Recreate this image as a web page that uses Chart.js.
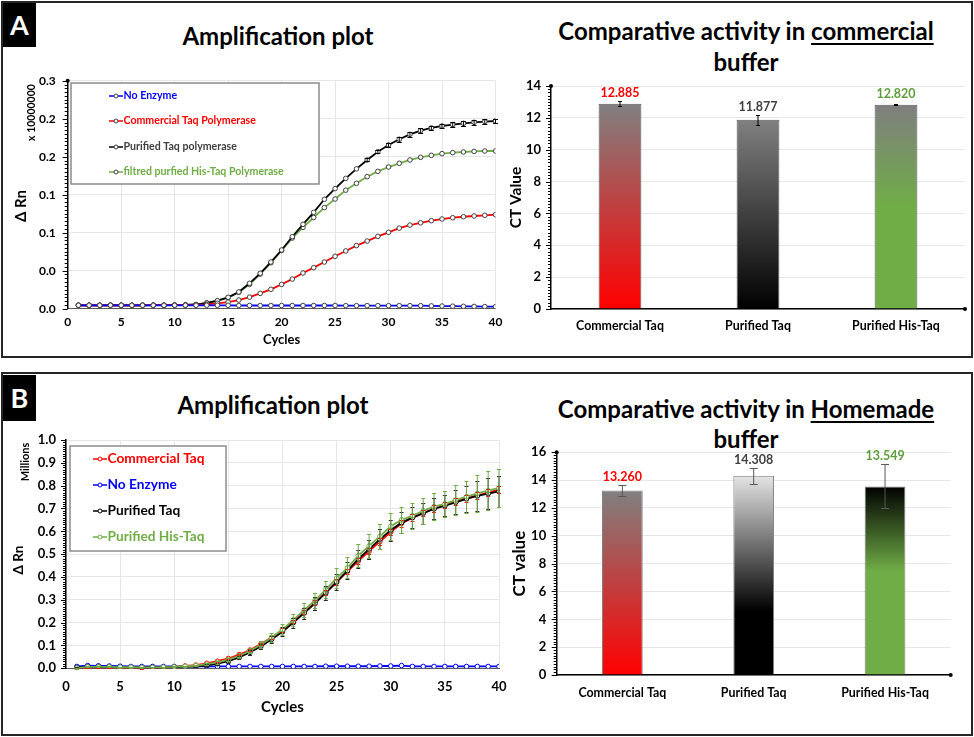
<!DOCTYPE html>
<html>
<head>
<meta charset="utf-8">
<script src="https://cdn.jsdelivr.net/npm/chart.js@4.4.1/dist/chart.umd.min.js"></script>
<style>
  body { margin: 0; width: 974px; height: 737px; background: #fff; position: relative; overflow: hidden; font-family: Lato, "Noto Sans", sans-serif; }
  .panel { position: absolute; left: 1px; width: 968px; border: 2px solid #262626; }
  .tag { position: absolute; left: 3px; width: 33px; background: #000; color: #fff; font-weight: bold; font-size: 27px; text-align: center; }
  .title { position: absolute; width: 460px; text-align: center; font-weight: bold; color: #000; white-space: nowrap; }
  .title u { text-decoration-thickness: 2px; text-underline-offset: 3px; }
  canvas { position: absolute; }
</style>
</head>
<body>
<div class="panel" style="top:1px;height:353px"></div>
<div class="panel" style="top:372px;height:360px"></div>
<div class="tag" style="top:3px;height:44px;line-height:44px">A</div>
<div class="tag" style="top:375px;height:46px;line-height:46px">B</div>

<div class="title" style="left:48px;top:21.5px;font-size:24px;line-height:27px">Amplification plot</div>
<div class="title" style="left:516px;top:15px;font-size:24px;line-height:31px">Comparative activity in <u>commercial</u><br>buffer</div>
<div class="title" style="left:43px;top:390.5px;font-size:24px;line-height:27px">Amplification plot</div>
<div class="title" style="left:516px;top:394px;font-size:24px;line-height:30px">Comparative activity in <u>Homemade</u><br>buffer</div>

<canvas id="ampA" width="505" height="293" style="left:0;top:62px"></canvas>
<canvas id="barA" width="474" height="282" style="left:500px;top:75px"></canvas>
<canvas id="ampB" width="515" height="300" style="left:0;top:425px"></canvas>
<canvas id="barB" width="474" height="280" style="left:500px;top:440px"></canvas>

<script>
const cycles = [1,2,3,4,5,6,7,8,9,10,11,12,13,14,15,16,17,18,19,20,
  21,22,23,24,25,26,27,28,29,30,31,32,33,34,35,36,37,38,39,40];

// panel A amplification, delta Rn in units of 10^7
const aNoEnzyme = [0.0045,0.0045,0.0045,0.0045,0.0045,0.0045,0.0045,0.0045,0.0045,0.0045,
  0.0045,0.0045,0.0045,0.0045,0.0045,0.0042,0.0042,0.0042,0.0042,0.0042,
  0.0042,0.0042,0.0042,0.0042,0.0042,0.0040,0.0040,0.0040,0.0040,0.0040,
  0.0040,0.0040,0.0040,0.0037,0.0035,0.0033,0.0031,0.0030,0.0028,0.0026];
const aCommercial = [0.0045,0.0045,0.0045,0.0045,0.0045,0.0045,0.0045,0.0046,0.0046,0.0047,
  0.0048,0.0050,0.0058,0.0071,0.0086,0.0114,0.0152,0.0202,0.0255,0.0320,
  0.0390,0.0470,0.0540,0.0614,0.0690,0.0760,0.0830,0.0890,0.0952,0.1005,
  0.1060,0.1100,0.1130,0.1158,0.1180,0.1197,0.1210,0.1220,0.1229,0.1237];
const aPurified = [0.0045,0.0045,0.0045,0.0045,0.0045,0.0045,0.0045,0.0046,0.0046,0.0047,
  0.0050,0.0055,0.0075,0.0105,0.0150,0.0220,0.0334,0.0466,0.0614,0.0772,
  0.0947,0.1110,0.1268,0.1440,0.1580,0.1715,0.1840,0.1957,0.2066,0.2154,
  0.2229,0.2294,0.2342,0.2378,0.2404,0.2421,0.2439,0.2452,0.2461,0.2470];
const aPurifiedErr = [0,0,0,0,0,0,0,0,0,0,0,0,0,0,0,0,0,0,0,0,
  0,0,0,0,0,0,0,0.002,0.002,0.002,
  0.003,0.003,0.003,0.003,0.003,0.003,0.003,0.003,0.003,0.003];
const aHisTaq = [0.0045,0.0045,0.0045,0.0045,0.0045,0.0045,0.0045,0.0046,0.0046,0.0047,
  0.0050,0.0055,0.0075,0.0102,0.0145,0.0215,0.0320,0.0455,0.0605,0.0765,
  0.0930,0.1070,0.1200,0.1330,0.1443,0.1560,0.1650,0.1737,0.1807,0.1864,
  0.1913,0.1957,0.1992,0.2018,0.2040,0.2053,0.2062,0.2070,0.2075,0.2075];
const aYTickLabels = ['0.0','0.0','0.1','0.1','0.2','0.2','0.3'];

// panel B amplification, delta Rn in millions
const bCommercial = [-0.004,0.003,0.003,0.003,0.002,0.001,0.000,0.001,0.003,0.005,
  0.010,0.014,0.022,0.031,0.043,0.060,0.080,0.106,0.135,0.168,
  0.205,0.245,0.287,0.333,0.378,0.425,0.470,0.513,0.555,0.597,
  0.635,0.660,0.680,0.700,0.715,0.730,0.745,0.758,0.770,0.783];
const bCommercialErr = [0.001,0.001,0.001,0.001,0.001,0.001,0.001,0.001,0.001,0.001,
  0.001,0.001,0.002,0.002,0.003,0.003,0.004,0.005,0.006,0.007,
  0.008,0.009,0.010,0.011,0.012,0.012,0.013,0.014,0.014,0.015,
  0.015,0.015,0.015,0.015,0.015,0.015,0.015,0.015,0.015,0.015];
const bNoEnzyme = [0.008,0.012,0.011,0.010,0.009,0.008,0.008,0.008,0.008,0.008,
  0.008,0.008,0.008,0.008,0.008,0.008,0.008,0.008,0.008,0.008,
  0.008,0.008,0.008,0.009,0.009,0.009,0.009,0.009,0.010,0.010,
  0.012,0.008,0.008,0.008,0.008,0.008,0.008,0.008,0.008,0.008];
const bPurified = [0.003,0.006,0.006,0.005,0.005,0.004,0.004,0.004,0.004,0.005,
  0.006,0.009,0.013,0.020,0.031,0.048,0.070,0.096,0.127,0.160,
  0.200,0.242,0.284,0.330,0.378,0.428,0.478,0.522,0.565,0.605,
  0.638,0.660,0.680,0.698,0.712,0.727,0.742,0.755,0.765,0.775];
const bPurifiedErr = [0.001,0.001,0.001,0.001,0.001,0.001,0.001,0.001,0.001,0.001,
  0.002,0.003,0.004,0.005,0.006,0.008,0.010,0.012,0.016,0.020,
  0.022,0.024,0.027,0.030,0.035,0.037,0.040,0.042,0.044,0.046,
  0.046,0.046,0.046,0.046,0.046,0.052,0.056,0.064,0.068,0.068];
const bHisTaq = [0.001,0.006,0.006,0.006,0.005,0.005,0.004,0.004,0.005,0.006,
  0.009,0.012,0.018,0.026,0.038,0.055,0.077,0.103,0.135,0.170,
  0.212,0.255,0.298,0.345,0.395,0.440,0.493,0.536,0.578,0.622,
  0.650,0.668,0.690,0.708,0.720,0.737,0.752,0.766,0.778,0.790];
const bHisTaqErr = [0.002,0.002,0.002,0.002,0.002,0.002,0.002,0.002,0.002,0.002,
  0.003,0.004,0.005,0.006,0.008,0.010,0.012,0.015,0.020,0.025,
  0.028,0.030,0.033,0.038,0.044,0.046,0.050,0.052,0.055,0.058,
  0.058,0.058,0.057,0.058,0.058,0.065,0.070,0.080,0.085,0.085];

// CT bar charts
const barCategories = ['Commercial Taq', 'Purified Taq', 'Purified His-Taq'];
const aCtValues = [12.885, 11.877, 12.820];
const aCtErr = [0.15, 0.30, 0.02];
const bCtValues = [13.260, 14.308, 13.549];
const bCtErr = [0.42, 0.59, 1.58];

// bar gradient stops (top -> bottom)
const aBarStops = [
  [[0, '#808080'], [1, '#ff0000']],
  [[0, '#808080'], [1, '#000000']],
  [[0, '#7f7f7f'], [0.5, '#70ad47'], [1, '#70ad47']]
];
const bBarStops = [
  [[0, '#808080'], [1, '#ff0000']],
  [[0, '#e4e4e4'], [0.68, '#000000'], [1, '#000000']],
  [[0, '#000000'], [0.45, '#70ad47'], [1, '#70ad47']]
];

const FONT = 'Lato, "Noto Sans", sans-serif';
Chart.defaults.font.family = FONT;
Chart.defaults.color = '#000';

const pts = arr => arr.map((v, i) => ({ x: cycles[i], y: v }));

function barFill(stops) {
  return function (c) {
    const chart = c.chart;
    if (!chart.chartArea || c.dataIndex === undefined) return stops[0][0][1];
    const ys = chart.scales.y;
    const top = ys.getPixelForValue(c.raw), bottom = ys.getPixelForValue(0);
    const g = chart.ctx.createLinearGradient(0, top, 0, bottom);
    stops[c.dataIndex].forEach(s => g.addColorStop(s[0], s[1]));
    return g;
  };
}

// error bars, value labels, minor ticks, legend box, extra axis texts
const decor = {
  id: 'decor',
  afterDatasetsDraw(chart, args, o) {
    const ctx = chart.ctx, ys = chart.scales.y;
    chart.data.datasets.forEach((ds, i) => {
      if (!ds.errors) return;
      const meta = chart.getDatasetMeta(i);
      ctx.save();
      ctx.lineWidth = 1;
      meta.data.forEach((el, j) => {
        const e = ds.errors[j];
        if (!e) return;
        const d = ds.data[j];
        const v = typeof d === 'object' ? d.y : d;
        const t = Math.round(ys.getPixelForValue(v + e)) + 0.5;
        const b = Math.round(ys.getPixelForValue(v - e)) + 0.5;
        const w = o.cap || 2.5;
        ctx.strokeStyle = ds.errorColor;
        ctx.beginPath(); ctx.moveTo(el.x, t); ctx.lineTo(el.x, b); ctx.stroke();
        ctx.beginPath();
        ctx.moveTo(el.x - w, t); ctx.lineTo(el.x + w, t);
        ctx.moveTo(el.x - w, b); ctx.lineTo(el.x + w, b);
        ctx.stroke();
      });
      ctx.restore();
    });
    if (o.valueLabels) {
      const ds = chart.data.datasets[0];
      const meta = chart.getDatasetMeta(0);
      ctx.save();
      ctx.font = o.valueLabels.font;
      ctx.textAlign = 'center';
      ctx.textBaseline = 'middle';
      meta.data.forEach((el, j) => {
        const v = ds.data[j];
        const errTop = ys.getPixelForValue(v + ds.errors[j]);
        const y = Math.min(el.y - 11, errTop - 8);
        ctx.fillStyle = ds.labelColors[j];
        ctx.fillText(v.toFixed(3), el.x, y);
      });
      ctx.restore();
    }
  },
  afterDraw(chart, args, o) {
    const ctx = chart.ctx, ys = chart.scales.y, area = chart.chartArea;
    ctx.save();
    if (o.minor) {
      ctx.strokeStyle = '#000';
      ctx.lineWidth = 1;
      const n = Math.round((ys.max - ys.min) / o.minor);
      for (let k = 0; k <= n; k++) {
        const py = Math.round(ys.getPixelForValue(ys.min + k * o.minor)) + 0.5;
        const len = k % o.every === 0 ? 5 : 3;
        ctx.beginPath(); ctx.moveTo(area.left - len, py); ctx.lineTo(area.left, py); ctx.stroke();
      }
    }
    (o.dots || []).forEach(p => {
      ctx.fillStyle = '#000';
      ctx.beginPath();
      if (p === 'top') ctx.arc(area.left, area.top, 2, 0, Math.PI * 2);
      else ctx.arc(area.right, area.bottom, 2, 0, Math.PI * 2);
      ctx.fill();
    });
    (o.texts || []).forEach(t => {
      ctx.save();
      ctx.translate(t.x, t.y);
      ctx.rotate(-Math.PI / 2);
      ctx.font = t.font;
      ctx.fillStyle = '#000';
      ctx.textAlign = 'center';
      ctx.textBaseline = 'middle';
      ctx.fillText(t.text, 0, 0);
      ctx.restore();
    });
    if (o.legend) {
      const L = o.legend;
      ctx.fillStyle = '#fff';
      ctx.fillRect(L.box[0], L.box[1], L.box[2] - L.box[0], L.box[3] - L.box[1]);
      ctx.strokeStyle = '#8c8c8c';
      ctx.lineWidth = 1.5;
      ctx.strokeRect(L.box[0], L.box[1], L.box[2] - L.box[0], L.box[3] - L.box[1]);
      ctx.font = L.font;
      ctx.textBaseline = 'middle';
      ctx.textAlign = 'left';
      chart.data.datasets.forEach((ds, i) => {
        const y = L.rows[i];
        ctx.strokeStyle = ds.borderColor;
        ctx.lineWidth = 1.5;
        ctx.beginPath(); ctx.moveTo(L.x1, y); ctx.lineTo(L.x2, y); ctx.stroke();
        ctx.beginPath(); ctx.arc((L.x1 + L.x2) / 2, y, 2, 0, Math.PI * 2);
        ctx.fillStyle = '#fff'; ctx.fill();
        ctx.strokeStyle = ds.pointBorderColor; ctx.lineWidth = 1; ctx.stroke();
        ctx.fillStyle = ds.labelColor;
        ctx.fillText(ds.label, L.textX, y);
      });
    }
    ctx.restore();
  }
};

function lineDs(label, values, color, labelColor, pointColor, errors, errorColor, order) {
  return {
    label: label, data: pts(values), borderColor: color, borderWidth: 1.8,
    pointRadius: 2.3, pointBorderWidth: 1, pointBackgroundColor: '#fff',
    pointBorderColor: pointColor, labelColor: labelColor,
    errors: errors, errorColor: errorColor, order: order, tension: 0
  };
}

// fixed axis box size, and no extra label padding added to the chart area
function fixedSize(w, h) {
  return function (s) {
    if (w !== null) s.width = w;
    if (h !== null) s.height = h;
    s.paddingLeft = 0; s.paddingRight = 0; s.paddingTop = 0; s.paddingBottom = 0;
  };
}

// ---- A: amplification plot
new Chart(document.getElementById('ampA'), {
  type: 'line',
  data: {
    datasets: [
      lineDs('No Enzyme', aNoEnzyme, '#0000ff', '#0000ff', '#404040', null, null, 0),
      lineDs('Commercial Taq Polymerase', aCommercial, '#ff0000', '#ff0000', '#404040', null, null, 1),
      lineDs('Purified Taq polymerase', aPurified, '#000000', '#404040', '#404040', aPurifiedErr, '#000', 2),
      lineDs('filtred purfied His-Taq Polymerase', aHisTaq, '#70ad47', '#70ad47', '#404040', null, null, 3)
    ]
  },
  options: {
    responsive: false, animation: false,
    layout: { padding: { top: 18.7, right: 9.5, left: 0, bottom: 0 } },
    scales: {
      x: {
        type: 'linear', min: 0, max: 40,
        ticks: { stepSize: 5, padding: 6, font: { size: 12, weight: 'bold' } },
        grid: { color: '#e6e6e6', drawTicks: false },
        border: { color: '#595959', width: 1 },
        title: { display: true, text: 'Cycles', font: { size: 13, weight: 'bold' }, padding: { top: 0, bottom: 7 } },
        afterFit: fixedSize(null, 46.3)
      },
      y: {
        min: 0, max: 0.3,
        ticks: { stepSize: 0.05, padding: 12, font: { size: 12, weight: 'bold' },
          callback: (v, i) => aYTickLabels[i] },
        grid: { color: '#e6e6e6', drawTicks: false },
        border: { color: '#000', width: 1.5 },
        afterFit: fixedSize(67.7, null)
      }
    },
    plugins: {
      legend: { display: false }, tooltip: { enabled: false },
      decor: {
        cap: 2.5, minor: 0.005, every: 10, dots: ['top'],
        texts: [
          { text: 'x 10000000', x: 31.5, y: 50.5, font: 'bold 10.5px ' + FONT },
          { text: '\u0394 Rn', x: 21.5, y: 144, font: 'bold 15px ' + FONT }
        ],
        legend: { box: [71, 21, 319, 122], rows: [34, 59, 85, 110], x1: 109, x2: 123, textX: 123.5,
          font: 'bold 10.6px ' + FONT }
      }
    }
  },
  plugins: [decor]
});

// ---- A: CT bars
new Chart(document.getElementById('barA'), {
  type: 'bar',
  data: {
    labels: barCategories,
    datasets: [{
      data: aCtValues, errors: aCtErr, errorColor: '#000',
      backgroundColor: barFill(aBarStops), borderColor: '#595959', borderWidth: 1,
      barPercentage: 0.31, categoryPercentage: 1,
      labelColors: ['#ff0000', '#404040', '#5e9e3a']
    }]
  },
  options: {
    responsive: false, animation: false,
    layout: { padding: { top: 11, right: 9, left: 0, bottom: 0 } },
    scales: {
      x: {
        ticks: { padding: 10, font: { size: 12.4, weight: 'bold' } },
        grid: { display: false, drawTicks: false },
        border: { color: '#000', width: 1.5 },
        afterFit: fixedSize(null, 48)
      },
      y: {
        min: 0, max: 14,
        ticks: { stepSize: 2, padding: 10, font: { size: 13, weight: 'bold' } },
        grid: { color: '#e6e6e6', drawTicks: false },
        border: { color: '#000', width: 1.5 },
        title: { display: true, text: 'CT Value', font: { size: 15.5, weight: 'bold' }, padding: { top: 6.7, bottom: 0 } },
        afterFit: fixedSize(51, null)
      }
    },
    plugins: {
      legend: { display: false }, tooltip: { enabled: false },
      decor: { cap: 2, minor: 0.2, every: 10, dots: ['top', 'right'],
        valueLabels: { font: 'bold 12.5px ' + FONT } }
    }
  },
  plugins: [decor]
});

// ---- B: amplification plot
new Chart(document.getElementById('ampB'), {
  type: 'line',
  data: {
    datasets: [
      lineDs('Commercial Taq', bCommercial, '#ff0000', '#ff0000', '#ff0000', bCommercialErr, '#ff0000', 2),
      lineDs('No Enzyme', bNoEnzyme, '#0000ff', '#0000ff', '#0000ff', null, null, 3),
      lineDs('Purified Taq', bPurified, '#000000', '#000000', '#000000', bPurifiedErr, '#262626', 1),
      lineDs('Purified His-Taq', bHisTaq, '#70ad47', '#70ad47', '#70ad47', bHisTaqErr, '#70ad47', 0)
    ]
  },
  options: {
    responsive: false, animation: false,
    layout: { padding: { top: 15, right: 16, left: 0, bottom: 0 } },
    scales: {
      x: {
        type: 'linear', min: 0, max: 40,
        ticks: { stepSize: 5, padding: 10.5, font: { size: 13, weight: 'bold' } },
        grid: { color: '#e6e6e6', drawTicks: false },
        border: { color: '#595959', width: 1 },
        title: { display: true, text: 'Cycles', font: { size: 15, weight: 'bold' }, padding: { top: 0, bottom: 9 } },
        afterFit: fixedSize(null, 56.7)
      },
      y: {
        min: 0, max: 1,
        ticks: { stepSize: 0.1, padding: 10, font: { size: 13, weight: 'bold' }, callback: v => v.toFixed(1) },
        grid: { color: '#e6e6e6', drawTicks: false },
        border: { color: '#000', width: 1.5 },
        afterFit: fixedSize(66, null)
      }
    },
    plugins: {
      legend: { display: false }, tooltip: { enabled: false },
      decor: {
        cap: 2, minor: 0.01, every: 10,
        texts: [
          { text: 'Millions', x: 25, y: 37, font: 'bold 11px ' + FONT },
          { text: '\u0394 Rn', x: 18.5, y: 135, font: 'bold 13.5px ' + FONT }
        ],
        legend: { box: [70, 21, 226, 126], rows: [34, 60, 86, 112], x1: 93, x2: 107, textX: 107.5,
          font: 'bold 13.7px ' + FONT }
      }
    }
  },
  plugins: [decor]
});

// ---- B: CT bars
new Chart(document.getElementById('barB'), {
  type: 'bar',
  data: {
    labels: barCategories,
    datasets: [{
      data: bCtValues, errors: bCtErr, errorColor: '#595959',
      backgroundColor: barFill(bBarStops), borderColor: '#7f7f7f', borderWidth: 1,
      barPercentage: 0.31, categoryPercentage: 1,
      labelColors: ['#ff0000', '#404040', '#5e9e3a']
    }]
  },
  options: {
    responsive: false, animation: false,
    layout: { padding: { top: 12.3, right: 23.3, left: 0, bottom: 0 } },
    scales: {
      x: {
        ticks: { padding: 11, font: { size: 12.4, weight: 'bold' } },
        grid: { display: false, drawTicks: false },
        border: { color: '#000', width: 1.5 },
        afterFit: fixedSize(null, 45)
      },
      y: {
        min: 0, max: 16,
        ticks: { stepSize: 2, padding: 10.5, font: { size: 13, weight: 'bold' } },
        grid: { color: '#e6e6e6', drawTicks: false },
        border: { color: '#000', width: 1.5 },
        title: { display: true, text: 'CT value', font: { size: 17, weight: 'bold' }, padding: { top: 9.1, bottom: 0 } },
        afterFit: fixedSize(56.7, null)
      }
    },
    plugins: {
      legend: { display: false }, tooltip: { enabled: false },
      decor: { cap: 4, minor: 0.2, every: 10, dots: ['top', 'right'],
        valueLabels: { font: 'bold 12.5px ' + FONT } }
    }
  },
  plugins: [decor]
});
</script>
</body>
</html>
